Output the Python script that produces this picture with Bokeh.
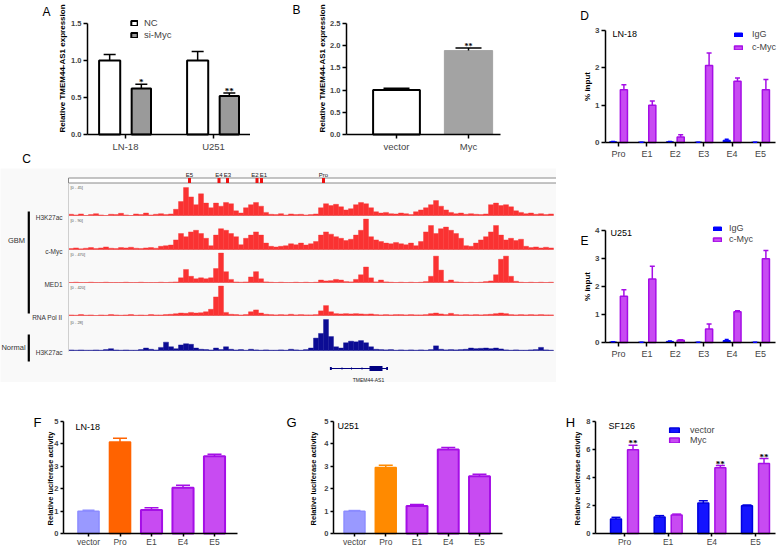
import numpy as np
from bokeh.plotting import figure
from bokeh.layouts import row, column
from bokeh.models import (Range1d, FixedTicker, PrintfTickFormatter, Whisker, TeeHead,
                          ColumnDataSource, Legend, LegendItem, Label, LabelSet,
                          BoxAnnotation, LinearAxis)
from bokeh.core.properties import value
from bokeh.embed import file_html
from bokeh.resources import INLINE

FONT = "Liberation Sans"

# ------------------------------------------------------------------ data
# Panel A
a_cells = ["LN-18", "U251"]
a_nc = [1.0, 1.0]
a_nc_err = [0.08, 0.12]
a_si = [0.62, 0.52]
a_si_err = [0.06, 0.04]
a_si_sig = ["*", "**"]
a_yticks = [0.0, 0.5, 1.0, 1.5]

# Panel B
b_groups = ["vector", "Myc"]
b_vals = [1.0, 1.89]
b_err = [0.04, 0.06]
b_sig = ["", "**"]
b_yticks = [0.0, 0.5, 1.0, 1.5, 2.0, 2.5]

# Panels D / E (ChIP-qPCR)
chip_regions = ["Pro", "E1", "E2", "E3", "E4", "E5"]
d_igg = [0.02, 0.01, 0.02, 0.01, 0.06, 0.01]
d_igg_err = [0.01, 0.0, 0.01, 0.0, 0.03, 0.0]
d_myc = [1.41, 1.00, 0.15, 2.06, 1.64, 1.41]
d_myc_err = [0.14, 0.11, 0.06, 0.34, 0.09, 0.28]
e_igg = [0.02, 0.01, 0.04, 0.01, 0.07, 0.01]
e_igg_err = [0.01, 0.0, 0.01, 0.0, 0.04, 0.0]
e_myc = [1.65, 2.27, 0.08, 0.48, 1.10, 2.99]
e_myc_err = [0.23, 0.45, 0.02, 0.18, 0.03, 0.30]
d_yticks = [0, 1, 2, 3]
e_yticks = [0, 1, 2, 3, 4]

# Panels F / G (luciferase)
luc_constructs = ["vector", "Pro", "E1", "E4", "E5"]
f_vals = [0.99, 4.07, 1.05, 2.03, 3.43]
f_err = [0.04, 0.16, 0.10, 0.11, 0.09]
g_vals = [0.99, 2.93, 1.22, 3.73, 2.54]
g_err = [0.03, 0.10, 0.07, 0.09, 0.09]
fg_yticks = [0, 1, 2, 3, 4, 5]

# Panel H
h_regions = ["Pro", "E1", "E4", "E5"]
h_vec = [1.03, 1.17, 2.17, 1.98]
h_vec_err = [0.12, 0.10, 0.16, 0.05]
h_myc = [5.95, 1.31, 4.67, 4.98]
h_myc_err = [0.32, 0.07, 0.16, 0.35]
h_sig = ["**", "", "**", "**"]
h_yticks = [0, 2, 4, 6, 8]

# Panel C (genome browser signal, % of track scale, one value per genomic bin)
h3k27ac_gbm = [4, 2, 5, 0, 3, 6, 2, 0, 4, 3, 7, 2, 0, 5, 3, 8, 2, 4, 6, 3,
               5, 20, 45, 90, 60, 35, 70, 40, 25, 40, 30, 42, 38, 15, 8, 25, 35, 42, 30, 10,
               4, 3, 6, 2, 5, 3, 4, 2, 3, 5,
               25, 38, 32, 36, 28, 18, 22, 35, 42, 38, 25, 12, 8, 10, 6, 5,
               8, 6, 3, 12, 18, 25, 35, 48, 30, 18, 10, 6, 8, 4, 6, 4, 3, 5, 35, 40,
               32, 35, 28, 15, 10, 6, 8, 4, 6, 3, 5]
cmyc_gbm = [3, 5, 2, 4, 6, 3, 5, 8, 4, 3, 6, 5, 7, 4, 3, 5, 6, 4,
            10, 12, 14, 30, 50, 40, 55, 60, 50, 35, 12, 45, 65, 60, 50, 40, 15, 35, 45, 55, 45, 20,
            10, 8, 10, 12, 18, 15, 20, 14, 18, 25, 45, 55, 48, 40, 35, 28, 32, 45, 60, 95,
            40, 30, 25, 20, 18, 22,
            18, 15, 20, 12, 25, 55, 75, 50, 65, 70, 60, 50, 35, 12, 10, 20, 30, 40, 55, 75,
            45, 30, 35, 28, 32, 10, 6, 8, 5, 7, 5]
med1_gbm = [0, 1, 0, 0, 1, 0, 0, 1, 0, 0, 0, 1, 0, 0, 1, 0, 0, 0, 1, 0, 1, 2,
            15, 42, 20, 12, 15, 12, 15, 45, 95, 35, 10, 2, 1, 2, 18, 35, 12, 2,
            1, 0, 1, 0, 0, 1, 0, 1, 0, 1,
            8, 5, 6, 10, 8, 3, 2, 10, 25, 50, 15, 2, 8, 2, 1, 0,
            1, 0, 1, 0, 1, 3, 20, 85, 40, 3, 8, 2, 1, 0, 1, 0, 1, 3, 5, 25,
            75, 85, 20, 4, 1, 0, 1, 0, 1, 0, 1]
pol2_gbm = [2, 1, 3, 1, 2, 0, 2, 1, 3, 2, 1, 2, 3, 1, 2, 1, 3, 2, 2, 3, 4,
            6, 8, 7, 10, 8, 9, 12, 20, 60, 95, 10, 4, 3, 2, 3, 12, 18, 8, 4,
            3, 2, 3, 2, 4, 2, 3, 2, 2, 3,
            15, 32, 12, 6, 5, 6, 5, 6, 5, 4, 5, 3, 2, 3, 2, 3,
            3, 2, 3, 2, 2, 3, 6, 8, 5, 3, 7, 3, 2, 3, 2, 3, 2, 3, 4, 6,
            8, 6, 3, 2, 3, 2, 3, 2, 3, 2, 2]
h3k27ac_normal = [2, 1, 2, 1, 1, 2, 1, 3, 6, 2, 1, 2, 1, 1, 3, 8, 4, 2,
                  10, 27, 12, 6, 18, 22, 20, 8, 4, 3, 2, 8, 3, 12, 4, 2, 3, 1, 4, 2, 1, 2,
                  1, 1, 2, 1, 4, 2, 1, 3, 8, 40, 55, 100, 45, 12, 8, 25, 30, 28, 32, 25,
                  12, 4, 3, 2, 3, 1,
                  2, 1, 2, 1, 2, 1, 3, 15, 4, 2, 3, 2, 3, 4, 8, 6, 7, 8, 6, 8,
                  5, 2, 1, 2, 1, 1, 2, 3, 10, 2, 1]
track_names = ["H3K27ac", "c-Myc", "MED1", "RNA Pol II", "H3K27ac"]
track_scales = ["[0 - 45]", "[0 - 90]", "[0 - 470]", "[0 - 420]", "[0 - 28]"]
elem_names = ["E5", "E4", "E3", "E2", "E1", "Pro"]
elem_pos = [23.7, 29.6, 31.3, 37.2, 38.1, 50.5]
gene_name = "TMEM44-AS1"
gene_start, gene_end = 51.8, 63.4
exon_start = [51.78, 54.1, 56.0, 58.1, 59.7, 63.04]
exon_end = [52.16, 54.3, 56.2, 58.3, 62.3, 63.40]
exon_thick = [3, 2, 2, 2, 5, 3]

PURPLE_F, PURPLE_L = "#c84bf2", "#a50ee6"
BLUE = "#0000ff"


# ------------------------------------------------------------------ helpers
def make_panel(box, xa, ya, xaxis_px, ymax, yticks, cats, xsize, ysize, fmt=None,
               tick_out=4, xstandoff=2):
    """box = figure box in page px; xa/ya = two (value, px) anchors for each scale."""
    X0, Y0, X1, Y1 = box
    (xv0, xp0), (xv1, xp1) = xa
    (yv0, yp0), (yv1, yp1) = ya
    sx = (xp1 - xp0) / (xv1 - xv0)
    sy = (yp1 - yp0) / (yv1 - yv0)

    def xinv(px):
        return xv0 + (px - xp0) / sx

    def yinv(py):
        return yv0 + (py - yp0) / sy

    p = figure(width=X1 - X0, height=Y1 - Y0,
               x_range=Range1d(xinv(X0), xinv(X1)), y_range=Range1d(yinv(Y1), yinv(Y0)),
               x_axis_type=None, y_axis_type=None, output_backend="svg",
               toolbar_location=None, min_border=0)
    p.outline_line_color = None
    p.background_fill_color = "white"
    p.border_fill_color = "white"
    xl, xr = xinv(xaxis_px[0]), xinv(xaxis_px[1])
    yax = LinearAxis(fixed_location=xl, bounds=(0, ymax), ticker=FixedTicker(ticks=yticks))
    xax = LinearAxis(fixed_location=0, bounds=(xl, xr),
                     ticker=FixedTicker(ticks=list(range(len(cats)))),
                     major_label_overrides={i: c for i, c in enumerate(cats)})
    for ax in (yax, xax):
        ax.axis_line_width = 1.5
        ax.axis_line_color = "black"
        ax.major_tick_line_width = 1.5
        ax.major_tick_in = 0
        ax.major_tick_out = tick_out
        ax.minor_tick_line_color = None
        ax.major_label_text_font = FONT
        ax.major_label_standoff = 2
    xax.major_label_standoff = xstandoff
    yax.major_label_text_font_size = ysize
    yax.major_label_text_font_style = "bold"
    xax.major_label_text_font_size = xsize
    if fmt:
        yax.formatter = PrintfTickFormatter(format=fmt)
    p.add_layout(yax, "left")
    p.add_layout(xax, "below")
    return p


def page_label(p, box, px, py, text, size, style="normal", align="center",
               baseline="middle", angle=0.0, color="#000000"):
    p.add_layout(Label(x=px - box[0], y=box[3] - py, x_units="screen", y_units="screen",
                       text=text, text_font=FONT, text_font_size=size, text_font_style=style,
                       text_align=align, text_baseline=baseline, angle=angle,
                       text_color=color))


def bars(p, xs, vals, errs, width, fill, line, lw, cap, sig=None, sig_size="9px",
         wcolor=None):
    src = ColumnDataSource(dict(x=list(xs), top=list(vals),
                                upper=[v + e for v, e in zip(vals, errs)],
                                sig=list(sig) if sig else [""] * len(vals)))
    r = p.vbar(x="x", top="top", bottom=0, width=width, source=src,
               fill_color=fill, line_color=line, line_width=lw)
    wc = wcolor or line
    p.add_layout(Whisker(base="x", upper="upper", lower="top", source=src, level="overlay",
                         line_color=wc, line_width=1.5, lower_head=None,
                         upper_head=TeeHead(size=cap, line_color=wc, line_width=1.5)))
    if sig:
        p.add_layout(LabelSet(x="x", y="upper", text="sig", source=src, level="overlay",
                              text_font=FONT, text_font_size=sig_size,
                              text_font_style="bold", text_align="center",
                              text_baseline="alphabetic", y_offset=-1,
                              text_color="#000000"))
    return r


def legend(p, box, items, left, bottom, gw, gh, size, spacing, standoff):
    leg = Legend(items=[LegendItem(label=t, renderers=[r]) for t, r in items],
                 location=(left - box[0], box[3] - bottom),
                 orientation="vertical", glyph_width=gw, glyph_height=gh,
                 label_text_font=FONT, label_text_font_size=size,
                 label_standoff=standoff, spacing=spacing, padding=0, margin=0,
                 label_height=gh, border_line_color=None, background_fill_alpha=0)
    p.add_layout(leg)


# ------------------------------------------------------------------ A
boxA = (0, 0, 250, 168)
pA = make_panel(boxA, ((0, 125), (1, 213)), ((0, 134), (1.5, 23)), (87, 255), 1.5,
                a_yticks, a_cells, "9.5px", "7.5px", "%.1f")
ia = np.arange(len(a_cells))
rA1 = bars(pA, ia - 0.18, a_nc, a_nc_err, 0.24, "white", "black", 2, 12)
rA2 = bars(pA, ia + 0.18, a_si, a_si_err, 0.22, "#9a9a9a", "black", 2, 12, a_si_sig)
legend(pA, boxA, [("NC", rA1), ("si-Myc", rA2)], 130, 40, 8, 6, "9.5px", 1, 6)
page_label(pA, boxA, 46, 11, "A", "12px")
page_label(pA, boxA, 26, 158, "C", "12px")
page_label(pA, boxA, 62, 68, "Relative TMEM44-AS1 expression", "8px", "bold",
           angle=np.pi / 2)

# ------------------------------------------------------------------ B
boxB = (250, 0, 556, 168)
pB = make_panel(boxB, ((0, 396), (1, 468)), ((0, 134), (2.5, 23)), (346, 500), 2.5,
                b_yticks, b_groups, "9.5px", "7.5px", "%.1f")
ib = np.arange(len(b_groups))
bars(pB, ib[:1], b_vals[:1], b_err[:1], 0.65, "white", "black", 2, 26)
bars(pB, ib[1:], b_vals[1:], b_err[1:], 0.67, "#a3a3a3", "#a3a3a3", 1, 26, b_sig[1:],
     sig_size="8px", wcolor="black")
page_label(pB, boxB, 296, 9, "B", "12px")
page_label(pB, boxB, 322, 68, "Relative TMEM44-AS1 expression", "8px", "bold",
           angle=np.pi / 2)

# ------------------------------------------------------------------ C
C_TOP, C_BOT = 168, 382
H_C = C_BOT - C_TOP
bins = np.arange(len(h3k27ac_gbm))
pC = figure(width=556, height=H_C, x_range=Range1d(-14.1, 97.1), y_range=Range1d(C_BOT, C_TOP),
            x_axis_type=None, y_axis_type=None, output_backend="svg", toolbar_location=None,
            min_border=0)
pC.outline_line_color = None
pC.background_fill_color = "#f9f9f9"
pC.border_fill_color = "#f9f9f9"

track_data = [h3k27ac_gbm, cmyc_gbm, med1_gbm, pol2_gbm, h3k27ac_normal]
track_geom = [(215, 184), (249, 217), (282, 251), (315, 284), (350, 319)]  # baseline, top
track_color = ["#fa3232"] * 4 + ["#0c0c94"]
ranges = {}
for i, (b, t) in enumerate(track_geom):
    span = 100.0 * H_C / (b - t)
    e = (b - C_TOP) * 100.0 / (b - t)
    ranges[f"t{i}"] = Range1d(e - span, e)
pC.extra_y_ranges = ranges
x_lo, x_hi = bins[0] - 0.5, bins[-1] + 0.5
for i, vals in enumerate(track_data):
    nm = f"t{i}"
    pC.segment(x0=[x_lo], x1=[x_hi], y0=[0], y1=[0], y_range_name=nm,
               line_color="#d4d4d4", line_width=1)
    pC.vbar(x=bins, top=vals, bottom=0, width=1.0, y_range_name=nm,
            fill_color=track_color[i], line_color=track_color[i], line_width=0.4)
    pC.add_layout(Label(x=x_lo, y=100, y_range_name=nm, text=track_scales[i], x_offset=2,
                        text_baseline="top", text_font=FONT, text_font_size="4px",
                        text_color="#555555"))
    pC.add_layout(Label(x=62, x_units="screen", y=0, y_range_name=nm, text=track_names[i],
                        y_offset=-2, text_align="right", text_baseline="middle",
                        text_font=FONT, text_font_size="6.5px", text_color="#333333"))
pC.segment(x0=[x_lo], x1=[x_lo], y0=[183], y1=[351], line_color="#cfcfcf", line_width=1)
pC.quad(left=[x_lo], right=[x_hi + 0.6], top=[177.5], bottom=[182.5], fill_color="white",
        line_color="#8a8a8a", line_width=1)
pC.rect(x=elem_pos, y=[180] * len(elem_pos), width=0.6, height=5, height_units="screen",
        fill_color="#ee1111", line_color=None)
pC.text(x=elem_pos, y=[174] * len(elem_pos), text=elem_names,
        x_offset=[0, 0, 0, -2, 2, 0], text_align="center", text_baseline="middle",
        text_font=value(FONT), text_font_size="6px", text_color="#222222")
GENE_Y = 368
pC.segment(x0=[gene_start], x1=[gene_end], y0=[GENE_Y], y1=[GENE_Y], line_color="#000080",
           line_width=1)
pC.rect(x=[(s + e) / 2 for s, e in zip(exon_start, exon_end)], y=[GENE_Y] * len(exon_start),
        width=[e - s for s, e in zip(exon_start, exon_end)], height=exon_thick,
        height_units="screen", fill_color="#000080", line_color=None)
pC.text(x=[59.5], y=[379], text=[gene_name], text_align="center", text_baseline="middle",
        text_font=value(FONT), text_font_size="5px", text_color="#222222")
pC.add_layout(Label(x=16, x_units="screen", y=240, text="GBM", text_align="center",
                    text_baseline="middle", text_font=FONT, text_font_size="7.5px",
                    text_color="#333333"))
pC.add_layout(Label(x=13, x_units="screen", y=347, text="Normal", text_align="center",
                    text_baseline="middle", text_font=FONT, text_font_size="7.5px",
                    text_color="#333333"))
pC.add_layout(BoxAnnotation(left=27.2, right=29.4, left_units="screen", right_units="screen",
                            top=211, bottom=313, fill_color="black", fill_alpha=1,
                            line_color=None))
pC.add_layout(BoxAnnotation(left=27.2, right=29.4, left_units="screen", right_units="screen",
                            top=334, bottom=361, fill_color="black", fill_alpha=1,
                            line_color=None))


# ------------------------------------------------------------------ D / E
def chip_panel(box, y0px, ytop_px, ymax, yticks, igg, igg_err, myc, myc_err, cell, letter,
               leg_left, leg_bottom, spacing, standoff, cell_xy, letter_xy):
    p = make_panel(box, ((0, 618), (5, 760)), ((0, y0px), (ymax, ytop_px)), (605, 775), ymax,
                   yticks, chip_regions, "9px", "8px")
    idx = np.arange(len(chip_regions))
    r1 = bars(p, idx - 0.19, igg, igg_err, 0.25, BLUE, BLUE, 1, 4)
    r2 = bars(p, idx + 0.19, myc, myc_err, 0.25, PURPLE_F, PURPLE_L, 1.5, 5)
    legend(p, box, [("IgG", r1), ("c-Myc", r2)], leg_left, leg_bottom, 10, 5, "9px",
           spacing, standoff)
    page_label(p, box, cell_xy[0], cell_xy[1], cell, "9px", align="left")
    page_label(p, box, letter_xy[0], letter_xy[1], letter, "12px")
    page_label(p, box, 587, (y0px + ytop_px) / 2, "% input", "8px", "bold", angle=np.pi / 2)
    return p


boxD = (556, 0, 777, 190)
pD = chip_panel(boxD, 142, 30, 3, d_yticks, d_igg, d_igg_err, d_myc, d_myc_err,
                "LN-18", "D", 733, 52, 3, 9, (612, 33), (584, 15))
boxE = (556, 190, 777, 382)
pE = chip_panel(boxE, 342, 230, 4, e_yticks, e_igg, e_igg_err, e_myc, e_myc_err,
                "U251", "E", 712, 244, 1, 7, (610, 232), (584, 240))


# ------------------------------------------------------------------ F / G
def luc_panel(box, xa, axis_px, vals, errs, pro_color, cell, letter, cell_xy, letter_xy,
              title_x):
    p = make_panel(box, xa, ((0, 533), (5, 420.5)), axis_px, 5, fg_yticks, luc_constructs,
                   "8.5px", "7.5px", tick_out=3, xstandoff=0)
    idx = np.arange(len(luc_constructs))
    bars(p, idx[:1], vals[:1], errs[:1], 0.67, "#9999ff", "#8c8cff", 1.5, 12)
    bars(p, idx[1:2], vals[1:2], errs[1:2], 0.67, pro_color, pro_color, 1.5, 14)
    bars(p, idx[2:], vals[2:], errs[2:], 0.67, PURPLE_F, PURPLE_L, 2, 14)
    page_label(p, box, cell_xy[0], cell_xy[1], cell, "9px", align="left")
    page_label(p, box, letter_xy[0], letter_xy[1], letter, "13px")
    page_label(p, box, title_x, 477, "Relative luciferase  activity", "7.5px", "bold",
               angle=np.pi / 2)
    return p


boxF = (0, 382, 250, 547)
pF = luc_panel(boxF, ((0, 88), (4, 214)), (63, 237), f_vals, f_err, "#ff6300", "LN-18",
               "F", (75, 426), (37, 422), 50)
boxG = (250, 382, 505, 547)
pG = luc_panel(boxG, ((0, 354), (4, 479)), (333, 502), g_vals, g_err, "#ff8a00", "U251",
               "G", (337, 425), (291, 422), 313)

# ------------------------------------------------------------------ H
boxH = (505, 382, 777, 547)
pH = make_panel(boxH, ((0, 624), (3, 755)), ((0, 533), (8, 420.5)), (595, 775), 8,
                h_yticks, h_regions, "8.5px", "7.5px", tick_out=3, xstandoff=0)
ih = np.arange(len(h_regions))
rH1 = bars(pH, ih - 0.195, h_vec, h_vec_err, 0.25, "#1414ff", "#0000dd", 1.5, 9)
rH2 = bars(pH, ih + 0.195, h_myc, h_myc_err, 0.25, PURPLE_F, PURPLE_L, 1.5, 9, h_sig)
legend(pH, boxH, [("vector", rH1), ("Myc", rH2)], 668, 445, 12, 6, "9px", 0, 10)
page_label(pH, boxH, 608, 425, "SF126", "9px", align="left")
page_label(pH, boxH, 570, 422, "H", "13px")
page_label(pH, boxH, 577, 477, "Relative luciferase  activity", "7.5px", "bold",
           angle=np.pi / 2)

# ------------------------------------------------------------------ layout
top = row(column(row(pA, pB), pC), column(pD, pE))
bottom = row(pF, pG, pH)
page = column(top, bottom)
open("out.html", "w").write(file_html(page, INLINE))
